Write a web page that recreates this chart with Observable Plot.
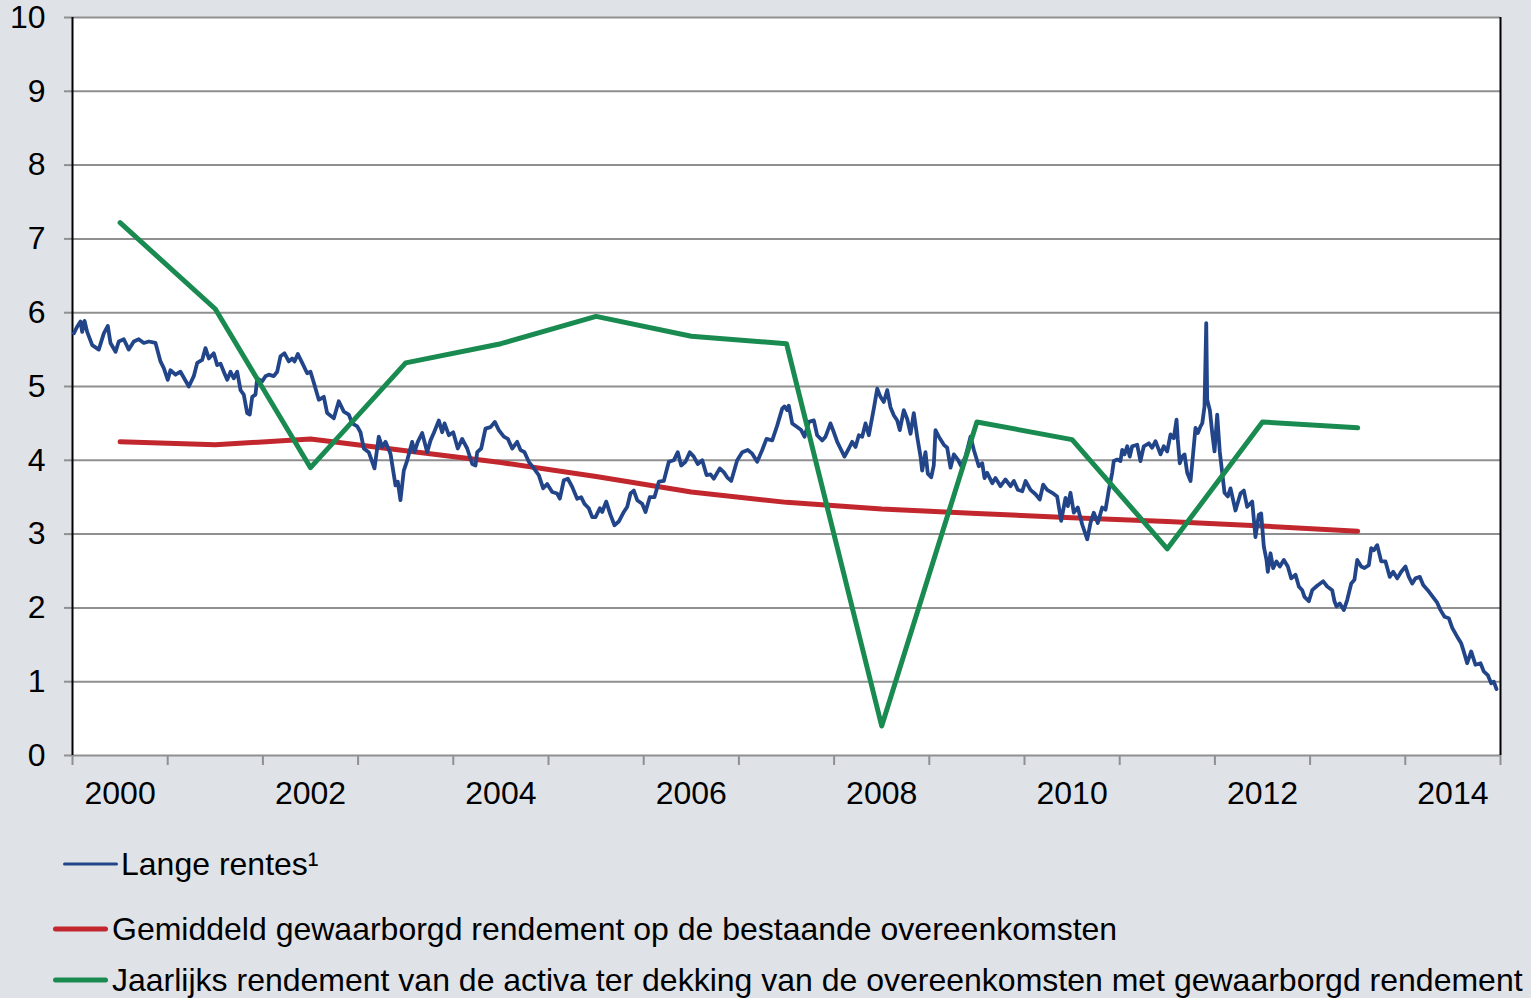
<!DOCTYPE html>
<html><head><meta charset="utf-8">
<script src="https://cdn.jsdelivr.net/npm/d3@7"></script>
<script src="https://cdn.jsdelivr.net/npm/@observablehq/plot@0.6"></script>
<style>
html,body{margin:0;padding:0;background:#dfe3e8;}
body{width:1531px;height:998px;overflow:hidden;position:relative;font-family:"Liberation Sans",Arial,sans-serif;}
#chart{position:absolute;left:0;top:0;}
.leg{position:absolute;display:flex;align-items:center;height:40px;font-size:32px;color:#000;white-space:nowrap;}
.leg svg{display:block;}
</style></head><body>
<div id="chart"></div>
<div id="legend"></div>
<script>
// --- data ---
const yTicks = [0,1,2,3,4,5,6,7,8,9,10];
const yearTicks = [2000,2001,2002,2003,2004,2005,2006,2007,2008,2009,2010,2011,2012,2013,2014,2015];
const xLabels = ["2000","2002","2004","2006","2008","2010","2012","2014"];

const seriesNames = [
  "Lange rentes\u00B9",
  "Gemiddeld gewaarborgd rendement op de bestaande overeenkomsten",
  "Jaarlijks rendement van de activa ter dekking van de overeenkomsten met gewaarborgd rendement"
];
const seriesColors = ["#22458a", "#c1272d", "#1a8b50"];

// annual series (mid-year)
const jaren = [2000,2001,2002,2003,2004,2005,2006,2007,2008,2009,2010,2011,2012,2013];
const gemiddeldGewaarborgd = [4.25,4.21,4.29,4.13,3.97,3.78,3.57,3.43,3.34,3.28,3.22,3.17,3.11,3.04];
const jaarlijksRendement = [7.22,6.05,3.90,5.32,5.58,5.95,5.68,5.58,0.40,4.52,4.28,2.80,4.52,4.44];

// long rates: time in years since 1 Jan 2000, value in %
const rentesT = [0.014,0.049,0.084,0.102,0.126,0.154,0.207,0.276,0.329,0.371,0.399,0.452,0.486,0.539,0.591,0.644,0.696,0.749,0.801,0.872,0.924,0.959,
1.001,1.029,1.082,1.134,1.222,1.274,1.310,1.362,1.397,1.432,1.484,1.520,1.555,1.589,1.625,1.660,1.694,1.730,1.765,1.799,1.835,1.862,1.888,1.922,1.940,1.993,
2.027,2.062,2.114,2.150,2.185,2.227,2.272,2.308,2.332,2.367,2.413,2.465,2.500,2.535,2.587,2.640,2.675,2.745,2.797,2.850,2.902,2.938,2.991,
3.025,3.060,3.112,3.172,3.217,3.253,3.288,3.340,3.393,3.417,3.445,3.480,3.516,3.568,3.592,3.627,3.673,3.726,3.761,3.795,3.848,3.883,3.908,3.953,3.999,
4.047,4.093,4.146,4.199,4.233,4.251,4.293,4.338,4.391,4.436,4.478,4.531,4.573,4.619,4.671,4.706,4.748,4.793,4.846,4.898,4.944,4.986,
5.039,5.091,5.119,5.161,5.203,5.249,5.301,5.343,5.378,5.423,5.459,5.494,5.539,5.564,5.606,5.651,5.693,5.738,5.791,5.827,5.861,5.896,5.932,5.984,
6.019,6.064,6.113,6.159,6.211,6.264,6.316,6.358,6.394,6.439,6.484,6.526,6.568,6.615,6.660,6.702,6.736,6.799,6.841,6.877,6.919,6.982,
7.035,7.093,7.140,7.192,7.245,7.290,7.350,7.402,7.455,7.479,7.507,7.524,7.560,7.612,7.654,7.689,7.734,7.787,7.822,7.875,7.910,7.962,7.997,
8.033,8.067,8.109,8.155,8.190,8.225,8.260,8.295,8.330,8.365,8.417,8.453,8.487,8.522,8.558,8.592,8.627,8.663,8.690,8.732,8.768,8.803,8.837,8.873,8.908,8.925,8.960,8.984,
9.020,9.047,9.065,9.100,9.153,9.188,9.223,9.258,9.300,9.335,9.380,9.433,9.468,9.520,9.556,9.580,9.608,9.661,9.695,9.748,9.800,9.853,9.888,9.930,9.976,
10.011,10.063,10.116,10.161,10.196,10.238,10.291,10.343,10.385,10.431,10.455,10.483,10.518,10.560,10.606,10.659,10.693,10.728,10.770,10.816,10.851,10.886,10.921,10.938,10.974,
11.008,11.026,11.050,11.079,11.106,11.131,11.184,11.218,11.253,11.306,11.341,11.376,11.429,11.463,11.499,11.534,11.568,11.597,11.610,11.631,11.657,11.681,11.709,11.744,11.772,11.796,11.821,11.849,11.867,11.891,11.909,11.919,11.947,11.972,11.996,
12.024,12.051,12.077,12.101,12.136,12.164,12.216,12.269,12.304,12.339,12.392,12.426,12.461,12.486,12.514,12.542,12.556,12.584,12.612,12.647,12.682,12.724,12.766,12.802,12.847,12.882,12.917,12.941,12.987,
13.022,13.074,13.138,13.180,13.232,13.256,13.277,13.312,13.354,13.390,13.432,13.466,13.495,13.537,13.571,13.617,13.642,13.669,13.705,13.747,13.792,13.837,13.873,13.915,13.957,
14.002,14.037,14.073,14.107,14.153,14.188,14.236,14.283,14.335,14.370,14.412,14.457,14.493,14.545,14.587,14.614,14.650,14.692,14.737,14.790,14.824,14.866,14.902,14.930,14.958];
const rentesV = [5.72,5.81,5.88,5.74,5.89,5.74,5.56,5.50,5.72,5.82,5.59,5.47,5.61,5.64,5.50,5.61,5.64,5.59,5.61,5.59,5.34,5.25,
5.09,5.22,5.16,5.20,5.00,5.14,5.32,5.36,5.52,5.38,5.45,5.29,5.31,5.20,5.09,5.20,5.11,5.20,4.95,4.89,4.64,4.62,4.86,4.89,5.11,5.07,
5.14,5.16,5.14,5.20,5.41,5.45,5.34,5.38,5.34,5.44,5.32,5.18,5.20,5.05,4.82,4.86,4.64,4.57,4.80,4.66,4.62,4.50,4.46,
4.38,4.16,4.11,3.89,4.32,4.18,4.25,4.09,3.66,3.71,3.46,3.86,4.00,4.25,4.11,4.25,4.37,4.11,4.27,4.37,4.54,4.38,4.50,4.34,4.38,
4.16,4.29,4.16,3.95,3.93,4.11,4.16,4.43,4.45,4.52,4.41,4.32,4.29,4.16,4.25,4.14,4.11,3.98,3.89,3.80,3.62,3.68,
3.57,3.55,3.48,3.73,3.75,3.64,3.48,3.50,3.41,3.35,3.23,3.23,3.35,3.30,3.44,3.26,3.12,3.17,3.30,3.37,3.55,3.59,3.46,3.41,
3.30,3.50,3.50,3.71,3.72,3.98,4.00,4.11,3.93,3.98,4.11,4.05,3.95,4.00,3.80,3.81,3.75,3.89,3.84,3.77,3.72,4.00,
4.11,4.14,4.09,3.98,4.14,4.29,4.27,4.47,4.70,4.73,4.68,4.74,4.50,4.45,4.41,4.32,4.52,4.54,4.34,4.27,4.32,4.50,4.38,
4.25,4.16,4.05,4.16,4.25,4.18,4.34,4.32,4.50,4.34,4.70,4.97,4.86,4.79,4.95,4.72,4.61,4.54,4.41,4.68,4.56,4.36,4.64,4.32,4.05,3.86,4.11,3.82,
3.77,3.93,4.41,4.32,4.21,4.17,3.90,4.08,4.01,3.92,4.05,4.32,4.14,3.92,3.96,3.76,3.83,3.69,3.76,3.65,3.74,3.65,3.72,3.60,3.58,
3.72,3.60,3.54,3.47,3.67,3.60,3.56,3.51,3.18,3.49,3.38,3.56,3.29,3.36,3.13,2.93,3.15,3.29,3.15,3.36,3.33,3.60,3.83,3.99,4.01,
3.99,4.14,4.08,4.19,4.05,4.19,4.21,3.99,4.19,4.23,4.17,4.26,4.08,4.19,4.12,4.35,4.30,4.55,4.28,3.96,4.05,4.08,3.83,3.72,4.10,4.44,4.37,4.46,4.50,4.73,5.86,4.82,4.68,4.37,4.12,
4.62,4.12,3.83,3.56,3.51,3.62,3.32,3.55,3.59,3.37,3.44,2.96,3.26,3.28,2.83,2.65,2.49,2.74,2.54,2.63,2.56,2.65,2.56,2.40,2.45,2.29,2.24,2.15,2.09,
2.24,2.30,2.36,2.29,2.24,2.09,2.02,2.06,1.97,2.11,2.33,2.38,2.65,2.56,2.54,2.58,2.81,2.78,2.85,2.63,2.63,2.42,2.49,2.40,2.49,
2.56,2.42,2.33,2.40,2.42,2.31,2.24,2.16,2.07,1.97,1.88,1.86,1.73,1.61,1.52,1.41,1.25,1.41,1.23,1.25,1.14,1.09,0.98,1.00,0.90];

// --- tables built from the arrays ---
const rentes = rentesT.map((t, i) => ({x: 2000 + t, y: rentesV[i]}));
const gemiddeld = jaren.map((j, i) => ({x: j + 0.5, y: gemiddeldGewaarborgd[i]}));
const jaarlijks = jaren.map((j, i) => ({x: j + 0.5, y: jaarlijksRendement[i]}));

const font = '"Liberation Sans", Arial, sans-serif';
const grid = "#8f8f8f";

const chart = Plot.plot({
  width: 1531, height: 820,
  marginLeft: 72, marginRight: 31, marginTop: 17, marginBottom: 65,
  x: {domain: [2000, 2015]},
  y: {domain: [0, 10]},
  style: {background: "transparent", fontFamily: font, fontSize: "32px", color: "#000", overflow: "visible"},
  marks: [
    Plot.frame({fill: "white", stroke: "none"}),
    Plot.ruleY(yTicks.filter(d => d > 0), {stroke: grid, strokeWidth: 2}),
    Plot.axisY(yTicks, {tickSize: 8, tickPadding: 19, stroke: grid, strokeWidth: 2, label: null, fontSize: 32, tickFormat: d => String(d)}),
    Plot.axisX(yearTicks, {tickSize: 10, tickFormat: () => "", stroke: grid, strokeWidth: 2, label: null}),
    Plot.axisX(xLabels.map(d => +d + 0.5), {tickSize: 0, tickPadding: 26, tickFormat: d => xLabels.find(l => +l === Math.floor(d)), label: null, fontSize: 32}),
    Plot.ruleY([0], {stroke: grid, strokeWidth: 2}),
    Plot.ruleX([2000, 2015], {stroke: "#000", strokeWidth: 2}),
    Plot.line(gemiddeld, {x: "x", y: "y", stroke: seriesColors[1], strokeWidth: 5, strokeLinejoin: "round", strokeLinecap: "round"}),
    Plot.line(rentes, {x: "x", y: "y", stroke: seriesColors[0], strokeWidth: 3.8, strokeLinejoin: "round", strokeLinecap: "round"}),
    Plot.line(jaarlijks, {x: "x", y: "y", stroke: seriesColors[2], strokeWidth: 5, strokeLinejoin: "round", strokeLinecap: "round"})
  ]
});
document.getElementById("chart").appendChild(chart);

// --- legend (HTML) ---
const legendRows = [
  {left: 63, top: 844, w: 55, sw: 3, gap: 3},
  {left: 53, top: 909, w: 55, sw: 5, gap: 4},
  {left: 53, top: 960, w: 55, sw: 5, gap: 4}
];
const legend = document.getElementById("legend");
seriesNames.forEach((name, i) => {
  const r = legendRows[i];
  const row = document.createElement("div");
  row.className = "leg";
  row.style.left = r.left + "px";
  row.style.top = r.top + "px";
  row.innerHTML = `<svg width="${r.w}" height="10"><line x1="${r.sw/2}" x2="${r.w - r.sw/2}" y1="5" y2="5" stroke="${seriesColors[i]}" stroke-width="${r.sw}" stroke-linecap="round"/></svg><span style="margin-left:${r.gap}px">${name}</span>`;
  legend.appendChild(row);
});
</script></body></html>
